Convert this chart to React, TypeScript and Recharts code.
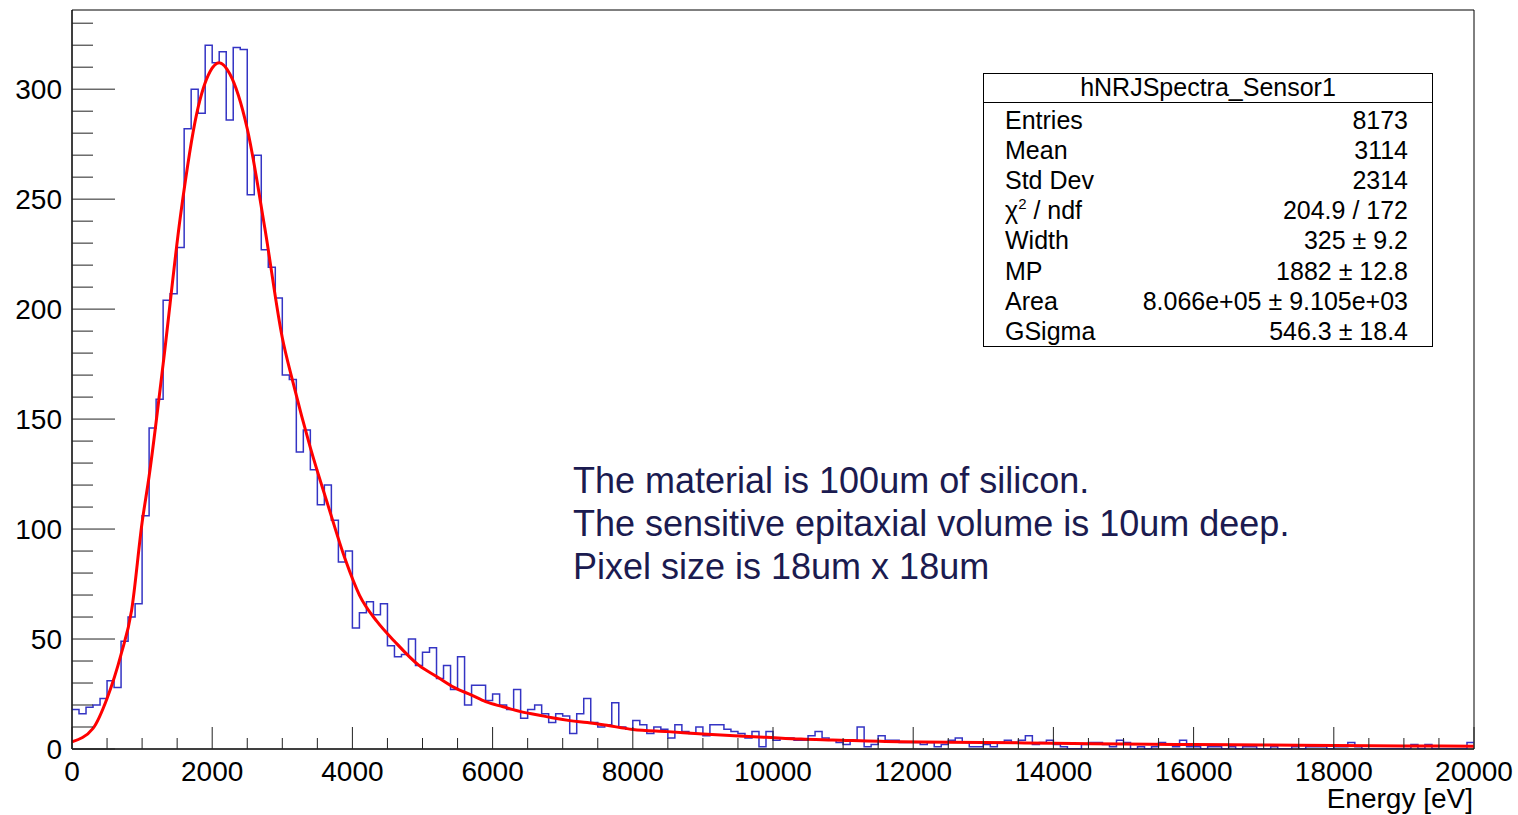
import React from "react";
import {
  ComposedChart,
  Line,
  XAxis,
  YAxis,
  ReferenceArea,
} from "recharts";

// histogram: 200 bins of 100 eV, counts
const BIN_WIDTH = 100;
const counts = [
  18, 16, 19, 20, 23, 31, 28, 49, 60, 66,
  106, 146, 159, 204, 207, 228, 282, 300, 289, 320,
  312, 317, 286, 319, 318, 252, 270, 227, 219, 205,
  170, 168, 135, 145, 127, 111, 120, 104, 85, 90,
  55, 62, 67, 61, 66, 47, 42, 43, 50, 38,
  44, 46, 32, 38, 27, 42, 20, 29, 29, 22,
  25, 20, 18, 27, 14, 18, 20, 16, 12, 16,
  15, 7, 16, 23, 12, 10, 11, 21, 10, 9,
  13, 11, 7, 10, 9, 5, 11, 8, 7, 10,
  6, 11, 11, 9, 8, 7, 5, 8, 1, 8,
  4, 5, 5, 4, 4, 6, 8, 5, 4, 3,
  2, 4, 10, 1, 2, 6, 4, 4, 3, 3,
  3, 2, 3, 1, 2, 4, 5, 3, 1, 1,
  2, 1, 3, 4, 3, 4, 6, 2, 3, 4,
  2, 1, 0, 0, 2, 3, 3, 2, 1, 4,
  3, 0, 1, 0, 1, 3, 2, 1, 4, 1,
  1, 0, 1, 1, 0, 1, 0, 1, 1, 0,
  0, 1, 0, 0, 1, 0, 1, 1, 1, 0,
  1, 1, 3, 1, 0, 0, 0, 0, 0, 0,
  0, 2, 0, 2, 0, 0, 0, 0, 0, 3,
];

// fitted Landau x Gauss curve
const fitEnergy = [
  0, 300, 500, 700, 850, 1000, 1100, 1300, 1550, 1780, 1970, 2100, 2250,
  2500, 2750, 3000, 3150, 3400, 3650, 3900, 4100, 4350, 4600, 4950, 5200,
  5450, 5700, 5900, 6150, 6400, 6650, 6850, 7100, 7350, 7600, 8000, 8500,
  9000, 9450, 9900, 10400, 10850, 11800, 13000, 14000, 15000, 16000, 17000,
  18000, 19000, 20000,
];
const fitValue = [
  3.3, 9.4, 23, 43, 63, 103, 124, 175, 243, 289, 308, 312, 307,
  282, 237, 187, 167, 137, 111, 86, 70, 58, 49, 38, 33,
  28, 24.5, 21.5, 19.2, 17, 15.5, 14.2, 12.9, 12, 10.9, 8.9, 7.9,
  6.8, 6, 5.3, 4.5, 4.1, 3.3, 3, 2.6, 2.3, 2, 1.8,
  1.6, 1.4, 1.3,
];

const xTicks = [
  0, 500, 1000, 1500, 2000, 2500, 3000, 3500, 4000, 4500, 5000, 5500, 6000,
  6500, 7000, 7500, 8000, 8500, 9000, 9500, 10000, 10500, 11000, 11500,
  12000, 12500, 13000, 13500, 14000, 14500, 15000, 15500, 16000, 16500,
  17000, 17500, 18000, 18500, 19000, 19500, 20000,
];
const yTicks = [
  0, 10, 20, 30, 40, 50, 60, 70, 80, 90, 100, 110, 120, 130, 140, 150, 160,
  170, 180, 190, 200, 210, 220, 230, 240, 250, 260, 270, 280, 290, 300, 310,
  320, 330,
];

const statsTitle = "hNRJSpectra_Sensor1";
const statsLabels = ["Entries", "Mean", "Std Dev", "χ2", "Width", "MP", "Area", "GSigma"];
const statsValues = [
  "8173",
  "3114",
  "2314",
  "204.9 / 172",
  "325 ± 9.2",
  "1882 ± 12.8",
  "8.066e+05 ± 9.105e+03",
  "546.3 ± 18.4",
];

const noteLines = [
  "The material is 100um of silicon.",
  "The sensitive epitaxial volume is 10um deep.",
  "Pixel size is 18um x 18um",
];

const FONT = "'Liberation Sans', Arial, Helvetica, sans-serif";

const histData = counts
  .map((c, i) => ({ x: i * BIN_WIDTH, y: c }))
  .concat([{ x: counts.length * BIN_WIDTH, y: counts[counts.length - 1] }]);

const fitData = fitEnergy.map((e, i) => ({ x: e, y: fitValue[i] }));

function renderXTick(props: any) {
  const { x, y, payload } = props;
  const major = payload.value % 2000 === 0;
  return (
    <g key={`xt-${payload.value}`}>
      <line x1={x} y1={y} x2={x} y2={y - (major ? 22 : 11)} stroke="#222" strokeWidth={1} />
      {major && (
        <text x={x} y={y + 32} textAnchor="middle" fontSize={28} fontFamily={FONT} fill="#000">
          {payload.value}
        </text>
      )}
    </g>
  );
}

function renderYTick(props: any) {
  const { x, y, payload } = props;
  const major = payload.value % 50 === 0;
  return (
    <g key={`yt-${payload.value}`}>
      <line x1={x} y1={y} x2={x + (major ? 43 : 21)} y2={y} stroke="#222" strokeWidth={1} />
      {major && (
        <text x={x - 10} y={y + 10} textAnchor="end" fontSize={28} fontFamily={FONT} fill="#000">
          {payload.value}
        </text>
      )}
    </g>
  );
}

export default function App() {
  return (
    <div style={{ position: "absolute", left: 0, top: 0, width: 1518, height: 815, background: "#fff" }}>
      <ComposedChart
        width={1518}
        height={815}
        margin={{ top: 10, right: 44, bottom: 65, left: 71 }}
      >
        <XAxis
          type="number"
          dataKey="x"
          domain={[0, 20000]}
          ticks={xTicks}
          interval={0}
          height={1}
          tickSize={0}
          tickMargin={0}
          tick={renderXTick}
          tickLine={false}
          axisLine={{ stroke: "#000" }}
          allowDataOverflow
        />
        <YAxis
          type="number"
          domain={[0, 336]}
          ticks={yTicks}
          interval={0}
          width={1}
          tickSize={0}
          tickMargin={0}
          tick={renderYTick}
          tickLine={false}
          axisLine={{ stroke: "#000" }}
          allowDataOverflow
        />
        <ReferenceArea x1={0} x2={20000} y1={0} y2={336} fill="none" stroke="#000" strokeWidth={1} />
        <Line
          data={histData}
          dataKey="y"
          type="stepAfter"
          stroke="#3434c4"
          strokeWidth={1.5}
          dot={false}
          activeDot={false}
          isAnimationActive={false}
        />
        <Line
          data={fitData}
          dataKey="y"
          type="monotone"
          stroke="#ff0000"
          strokeWidth={3}
          dot={false}
          activeDot={false}
          isAnimationActive={false}
        />
      </ComposedChart>

      <svg
        width={1518}
        height={815}
        style={{ position: "absolute", left: 0, top: 0, pointerEvents: "none" }}
        fontFamily={FONT}
      >
        {/* stats box */}
        <rect x={983.5} y={73.5} width={449} height={273} fill="#fff" stroke="#000" strokeWidth={1} />
        <line x1={983} y1={102.5} x2={1433} y2={102.5} stroke="#000" strokeWidth={1} />
        <text x={1208} y={96} textAnchor="middle" fontSize={25} fill="#000">
          {statsTitle}
        </text>
        {statsLabels.map((label, i) => (
          <g key={label}>
            <text x={1005} y={129 + i * 30.1} fontSize={25} fill="#000">
              {label === "χ2" ? (
                <>
                  χ<tspan fontSize={15} dy={-10}>2</tspan>
                  <tspan dy={10}> / ndf</tspan>
                </>
              ) : (
                label
              )}
            </text>
            <text x={1408} y={129 + i * 30.1} textAnchor="end" fontSize={25} fill="#000">
              {statsValues[i]}
            </text>
          </g>
        ))}

        {/* annotation */}
        {noteLines.map((line, i) => (
          <text key={i} x={573} y={493 + i * 43} fontSize={36} fill="#1b1b50">
            {line}
          </text>
        ))}

        {/* x axis title */}
        <text x={1473} y={808} textAnchor="end" fontSize={28} fill="#000">
          Energy [eV]
        </text>
      </svg>
    </div>
  );
}
